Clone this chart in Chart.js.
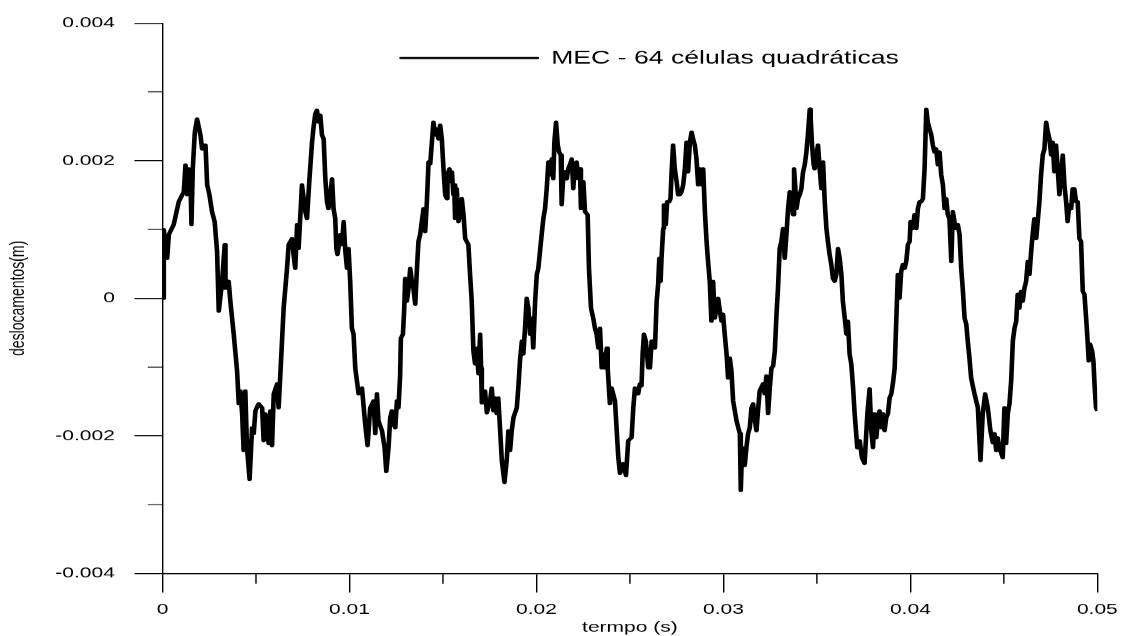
<!DOCTYPE html>
<html lang="pt">
<head>
<meta charset="utf-8">
<title>Deslocamentos - MEC</title>
<script src="https://cdn.jsdelivr.net/npm/chart.js@4.4.1/dist/chart.umd.min.js"></script>
<style>
  html, body { margin: 0; padding: 0; background: #fff; }
  #grafico { display: block; }
</style>
</head>
<body>
<!-- drawn 806px wide and shown stretched to 1129px, so text and strokes come out wide -->
<canvas id="grafico" width="806" height="636" style="width:1129px;height:636px"></canvas>
<script>
// Time in ms, displacement in mm (converted to s and m below)
const tempoMs = [
  0, 0.07, 0.25, 0.34, 0.60, 0.87, 1.14, 1.23, 1.32, 1.40, 1.50, 1.55, 1.62, 1.73, 1.85,
  2.03, 2.12, 2.30, 2.39, 2.51, 2.65, 2.79, 2.92, 3.01, 3.19, 3.33, 3.37, 3.54, 3.63, 3.81,
  3.99, 4.08, 4.17, 4.26, 4.34, 4.43, 4.52, 4.66, 4.79, 4.88, 4.97, 5.14, 5.33, 5.41, 5.50,
  5.68, 5.77, 5.86, 5.95, 6.13, 6.21, 6.30,
  6.48, 6.66, 6.75, 6.93, 7.01, 7.10, 7.20, 7.28, 7.46, 7.64, 7.73, 7.85, 8.00, 8.08, 8.17,
  8.26, 8.35, 8.44, 8.53, 8.62, 8.71, 8.80, 8.88, 8.97, 9.07, 9.15, 9.24, 9.30, 9.36, 9.51,
  9.60, 9.69, 9.78, 9.87, 9.95, 10.04, 10.13, 10.22,
  10.31, 10.40, 10.49, 10.67, 10.84, 10.97, 11.11, 11.29, 11.38, 11.47, 11.55, 11.74, 11.88,
  11.97, 12.09, 12.18, 12.27, 12.36, 12.45, 12.54, 12.62, 12.71,
  12.75, 12.86, 12.93, 12.98, 13.07, 13.16, 13.25, 13.34, 13.42, 13.52, 13.61, 13.69, 13.78,
  13.87, 13.96, 14.05, 14.14, 14.23, 14.32, 14.41, 14.49, 14.58, 14.67, 14.76, 14.85, 14.94,
  15.03, 15.12, 15.21, 15.24, 15.35, 15.42, 15.48, 15.56, 15.60, 15.65, 15.74, 15.83, 15.92,
  16.01, 16.10, 16.19, 16.36, 16.45, 16.54, 16.63, 16.72, 16.81, 16.90, 16.99,
  17.04, 17.08, 17.25, 17.35, 17.52, 17.61, 17.70, 17.79, 17.88, 17.96, 18.06, 18.15, 18.29,
  18.41, 18.50, 18.59, 18.68, 18.77, 18.95, 19.03, 19.12,
  19.22, 19.30, 19.39, 19.48, 19.57, 19.66, 19.75, 19.83, 19.93, 20.02, 20.10, 20.19, 20.28,
  20.37, 20.46, 20.55, 20.64, 20.73, 20.82, 20.90, 20.96, 21.05, 21.14, 21.21, 21.30, 21.35,
  21.44, 21.53, 21.62, 21.70, 21.79, 21.89, 21.97, 22.06, 22.15, 22.24, 22.33, 22.38, 22.51,
  22.60, 22.74, 22.81, 22.92, 23.04, 23.13, 23.22, 23.31, 23.40, 23.49, 23.57, 23.66, 23.76, 23.81,
  23.93, 24.02, 24.20, 24.38, 24.47, 24.64, 24.79, 24.91, 25.09, 25.18, 25.27, 25.44, 25.53, 25.62,
  25.68, 25.75, 25.85, 25.98, 26.07, 26.16, 26.25, 26.34, 26.43, 26.51, 26.57, 26.64, 26.69,
  26.78, 26.82, 26.92, 26.99, 27.10, 27.17, 27.23, 27.31, 27.40, 27.50, 27.58, 27.67, 27.76,
  27.85, 27.94, 28.03, 28.11, 28.21, 28.30, 28.38, 28.47, 28.56, 28.65, 28.74, 28.83, 28.92,
  29.01, 29.10, 29.18, 29.27, 29.36, 29.45, 29.54, 29.63, 29.72, 29.81, 29.90, 29.98, 30.07,
  30.17, 30.25, 30.34,
  30.43, 30.52, 30.70, 30.88, 30.93, 31.00, 31.14, 31.23, 31.32, 31.41, 31.50, 31.59, 31.68,
  31.77, 31.85, 31.94, 32.12, 32.21, 32.30, 32.39, 32.48, 32.57, 32.66,
  32.75, 32.84, 32.92, 33.01, 33.10, 33.19, 33.28, 33.37, 33.46, 33.55, 33.64, 33.72, 33.78,
  33.85, 33.91, 33.99, 34.08, 34.17, 34.26, 34.35, 34.44, 34.52, 34.62, 34.67, 34.74, 34.83,
  34.88, 34.97, 35.06, 35.15, 35.24, 35.33, 35.42, 35.51, 35.59, 35.68, 35.77, 35.86, 35.95,
  36.04, 36.13, 36.22, 36.31, 36.39, 36.49, 36.58, 36.66, 36.75, 36.84,
  36.93, 37.02, 37.16, 37.29, 37.41, 37.55, 37.70, 37.82, 37.91, 38.00, 38.09, 38.18, 38.26,
  38.35, 38.45, 38.53, 38.62, 38.71, 38.80, 38.89, 38.98, 39.07,
  39.16, 39.25, 39.33, 39.42, 39.51, 39.60, 39.69, 39.78, 39.87, 39.96, 40.01, 40.13, 40.22,
  40.32, 40.40, 40.49, 40.58, 40.67, 40.76, 40.85, 40.93, 41.03, 41.12, 41.20, 41.29, 41.38,
  41.47, 41.56, 41.65, 41.74, 41.83, 41.92, 42.00, 42.09, 42.19, 42.27, 42.36, 42.45, 42.54,
  42.63, 42.72, 42.80, 42.90, 42.99, 43.07, 43.16, 43.25, 43.34,
  43.43, 43.61, 43.75, 43.87, 44.00, 44.14, 44.28, 44.41, 44.50, 44.59, 44.67, 44.76, 44.94,
  45.03, 45.12, 45.21, 45.30, 45.39,
  45.48, 45.57, 45.66, 45.74, 45.83, 45.92, 46.01, 46.10, 46.19, 46.28, 46.37, 46.46, 46.54,
  46.63, 46.73, 46.81, 46.90, 46.99, 47.08, 47.17, 47.26, 47.35, 47.44, 47.53, 47.61, 47.70,
  47.79, 47.88, 47.97, 48.06, 48.15, 48.24, 48.33, 48.41, 48.50, 48.60, 48.68, 48.77, 48.86,
  48.95, 49.04, 49.13, 49.22, 49.31, 49.40, 49.48, 49.54, 49.61, 49.72, 49.79, 49.86, 49.93, 50.00
];

const deslocMm = [
  0, 0.998, 0.579, 0.926, 1.071, 1.403, 1.548, 1.939, 1.505, 1.881, 1.693, 1.071, 1.881, 2.416, 2.604,
  2.373, 2.170, 2.228, 1.649, 1.505, 1.259, 1.114, 0.680, -0.188, 0.246, 0.781, 0.145, 0.246, -0.043, -0.521,
  -1.056, -1.533, -1.345, -1.678, -2.213, -1.345, -2.170, -2.633, -1.881, -1.967, -1.635, -1.533, -1.591, -2.069, -1.678,
  -2.112, -1.635, -2.141, -1.389, -1.244, -1.591, -1.128,
  -0.145, 0.434, 0.781, 0.868, 0.637, 0.434, 1.071, 0.723, 1.649, 1.259, 1.157, 1.693, 2.271, 2.488, 2.676,
  2.734, 2.561, 2.662, 2.373, 2.315, 1.736, 1.403, 1.302, 1.505, 1.736, 1.302, 1.157, 0.723, 0.637, 0.926,
  0.781, 1.114, 0.680, 0.434, 0.723, 0.246, -0.434, -0.521,
  -1.013, -1.201, -1.389, -1.302, -1.823, -2.141, -1.591, -1.490, -1.967, -1.389, -1.779, -1.924, -2.170,
  -2.517, -2.170, -1.736, -1.635, -1.823, -1.881, -1.490, -1.591, -1.128,
  -0.579, -0.521, -0.145, 0.289, -0.043, 0.145, 0.434, 0.246, 0.145, -0.087, 0.434, 0.825, 0.926,
  1.114, 1.302, 0.969, 1.403, 1.982, 1.953, 2.271, 2.561, 2.373, 2.459, 2.315, 2.517, 2.315,
  1.881, 1.505, 1.447, 1.794, 1.881, 1.693, 1.837, 1.505, 1.649, 1.157, 1.591, 1.114, 1.215,
  1.447, 1.215, 0.868, 0.781, 0.347, -0.043, -0.767, -0.955, -0.723, -1.099, -0.521,
  -1.013, -1.519, -1.345, -1.664, -1.490, -1.302, -1.635, -1.447, -1.678, -1.447, -1.924, -2.358, -2.676,
  -2.358, -1.924, -2.213, -1.924, -1.736, -1.591, -1.302, -0.911,
  -0.622, -0.810, -0.434, 0, -0.145, -0.521, -0.289, -0.723, -0.043, 0.347, 0.434, 0.680, 0.926,
  1.157, 1.302, 1.591, 1.982, 1.794, 2.025, 1.736, 2.271, 2.561, 2.228, 2.127, 2.083, 1.360,
  1.794, 1.837, 1.736, 1.881, 1.939, 2.025, 1.591, 1.939, 1.982, 1.736, 1.881, 1.302, 1.693,
  1.259, 1.215, 0.434, -0.145, -0.289, -0.434, -0.521, -0.723, -0.434, -1.013, -0.810, -1.013, -0.723, -1.013,
  -1.533, -1.302, -1.490, -2.315, -2.546, -2.401, -2.575, -2.069, -2.025, -1.591, -1.302, -1.389, -1.244, -1.273,
  -0.810, -0.521, -0.622, -1.013, -1.013, -0.622, -0.622, -0.723, -0.043, 0.203, 0.579, 0.246, 0.579,
  1.013, 1.360, 1.071, 1.403, 1.403, 1.447, 1.837, 2.228, 1.881, 1.693, 1.505, 1.505, 1.548,
  1.649, 1.881, 2.271, 1.837, 2.271, 2.416, 2.315, 2.228, 2.025, 1.649, 1.881, 1.649, 1.881,
  1.259, 0.825, 0.535, 0.246, -0.333, 0.246, -0.289, -0.145, 0, -0.188, -0.333, -0.231, -0.521,
  -0.810, -1.157, -0.868,
  -1.056, -1.490, -1.779, -1.967, -2.792, -2.170, -2.430, -2.170, -1.967, -1.881, -1.591, -1.533, -1.779,
  -1.924, -1.635, -1.345, -1.244, -1.389, -1.128, -1.678, -1.302, -1.013, -0.984,
  -0.767, -0.231, 0.145, 0.723, 0.825, 1.013, 0.579, 0.926, 1.302, 1.548, 1.447, 1.215, 1.881,
  1.591, 1.302, 1.447, 1.505, 1.591, 1.837, 1.939, 2.127, 2.373, 2.749, 2.604, 2.228, 1.939,
  1.881, 2.083, 2.228, 1.881, 1.591, 1.982, 1.403, 1.013, 0.825, 0.637, 0.492, 0.289, 0.246,
  0.347, 0.723, 0.579, 0.347, -0.043, -0.289, -0.521, -0.333, -0.810, -0.955,
  -1.273, -1.678, -2.170, -2.069, -2.315, -2.401, -1.678, -1.316, -1.924, -2.170, -1.678, -2.025, -1.779,
  -1.635, -1.881, -1.678, -1.924, -1.736, -1.678, -1.447, -1.389, -1.230,
  -1.013, -0.289, 0.347, 0, 0.391, 0.492, 0.434, 0.535, 0.781, 0.825, 1.114, 1.013, 1.215,
  1.013, 1.302, 1.403, 1.403, 1.447, 1.881, 2.749, 2.561, 2.459, 2.373, 2.228, 2.127, 2.170,
  1.939, 2.127, 1.794, 1.649, 1.302, 1.447, 1.215, 1.157, 0.535, 1.259, 1.114, 1.013, 1.071,
  0.926, 0.434, 0.145, -0.289, -0.376, -0.622, -0.868, -1.157, -1.273,
  -1.389, -1.591, -2.358, -1.678, -1.389, -1.591, -1.924, -2.098, -1.967, -2.213, -2.025, -2.170, -2.315,
  -1.591, -2.112, -1.678, -1.533, -1.201,
  -0.622, -0.434, -0.333, 0.058, -0.145, 0.101, -0.043, 0.145, 0.246, 0.535, 0.347, 0.680, 0.926,
  1.157, 0.868, 1.114, 1.403, 1.794, 2.083, 2.170, 2.561, 2.416, 2.315, 2.083, 2.271, 1.837,
  2.228, 1.881, 1.505, 1.794, 2.083, 1.649, 1.403, 1.114, 1.360, 1.302, 1.591, 1.591, 1.403,
  1.403, 0.868, 0.825, 0.101, 0.058, -0.289, -0.622, -0.911, -0.665, -0.767, -0.911, -1.302, -1.591, -1.635
];

const serieNome = 'MEC - 64 células quadráticas';
const xTicksMenores = [0.005, 0.015, 0.025, 0.035, 0.045];
const yTicksMenores = [-0.003, -0.001, 0.001, 0.003];

if (tempoMs.length !== deslocMm.length) {
  console.error('tamanhos diferentes', tempoMs.length, deslocMm.length);
}

const pontos = tempoMs.map((t, i) => ({ x: t / 1000, y: deslocMm[i] / 1000 }));

const fmt = v => String(Number(v.toFixed(4)));

// short minor ticks between the labelled ones
const ticksMenores = {
  id: 'ticksMenores',
  afterDraw(chart) {
    const { ctx, chartArea, scales } = chart;
    ctx.save();
    ctx.strokeStyle = '#000';
    ctx.lineWidth = 1;
    ctx.beginPath();
    for (const v of yTicksMenores) {
      const y = scales.y.getPixelForValue(v);
      ctx.moveTo(chartArea.left - 10.5, y);
      ctx.lineTo(chartArea.left, y);
    }
    for (const v of xTicksMenores) {
      const x = scales.x.getPixelForValue(v);
      ctx.moveTo(x, chartArea.bottom);
      ctx.lineTo(x, chartArea.bottom + 10);
    }
    ctx.stroke();
    ctx.restore();
  }
};

// legend sits inside the plot, near the top, right of the y axis
const legendaNoTopo = {
  id: 'legendaNoTopo',
  afterLayout(chart) {
    const lg = chart.legend;
    if (!lg) return;
    const { padding, font } = lg.options.labels;
    lg.left = chart.chartArea.left + 170 - padding;
    lg.top = chart.chartArea.top + 35 - font.size / 2 - padding;
  }
};

Chart.defaults.font.family = "'Liberation Sans', Arial, sans-serif";
Chart.defaults.color = '#000';

const grafico = new Chart(document.getElementById('grafico'), {
  type: 'line',
  data: {
    datasets: [{
      label: serieNome,
      data: pontos,
      borderColor: '#000',
      backgroundColor: '#000',
      borderWidth: 3.3,
      borderJoinStyle: 'round',
      pointRadius: 0,
      tension: 0
    }]
  },
  options: {
    responsive: false,
    devicePixelRatio: 1129 / 806,
    animation: false,
    layout: { padding: { top: 21, right: 21, bottom: 0, left: 0 } },
    scales: {
      x: {
        type: 'linear',
        min: 0,
        max: 0.05,
        border: { display: true, color: '#000', width: 1 },
        grid: { drawOnChartArea: false, color: '#000', tickLength: 19 },
        ticks: { stepSize: 0.01, padding: 8, maxRotation: 0, autoSkip: false, font: { size: 15 }, callback: fmt },
        title: { display: true, text: 'termpo (s)', font: { size: 15 }, padding: 0 },
        afterFit: s => { s.height = 63; }
      },
      y: {
        type: 'linear',
        min: -0.004,
        max: 0.004,
        border: { display: true, color: '#000', width: 1 },
        grid: { drawOnChartArea: false, color: '#000', tickLength: 20 },
        ticks: { stepSize: 0.002, padding: 14, font: { size: 15 }, callback: fmt },
        title: { display: true, text: 'deslocamentos(m)', font: { size: 14 }, padding: 5 },
        afterFit: s => { s.width = 116; }
      }
    },
    plugins: {
      legend: {
        position: 'chartArea',
        align: 'start',
        labels: {
          boxWidth: 98,
          boxHeight: 0,
          padding: 10,
          font: { size: 19 },
          generateLabels(chart) {
            return Chart.defaults.plugins.legend.labels.generateLabels(chart)
              .map(item => ({ ...item, lineWidth: 2 }));
          }
        }
      },
      tooltip: { enabled: false }
    }
  },
  plugins: [ticksMenores, legendaNoTopo]
});
</script>
</body>
</html>
